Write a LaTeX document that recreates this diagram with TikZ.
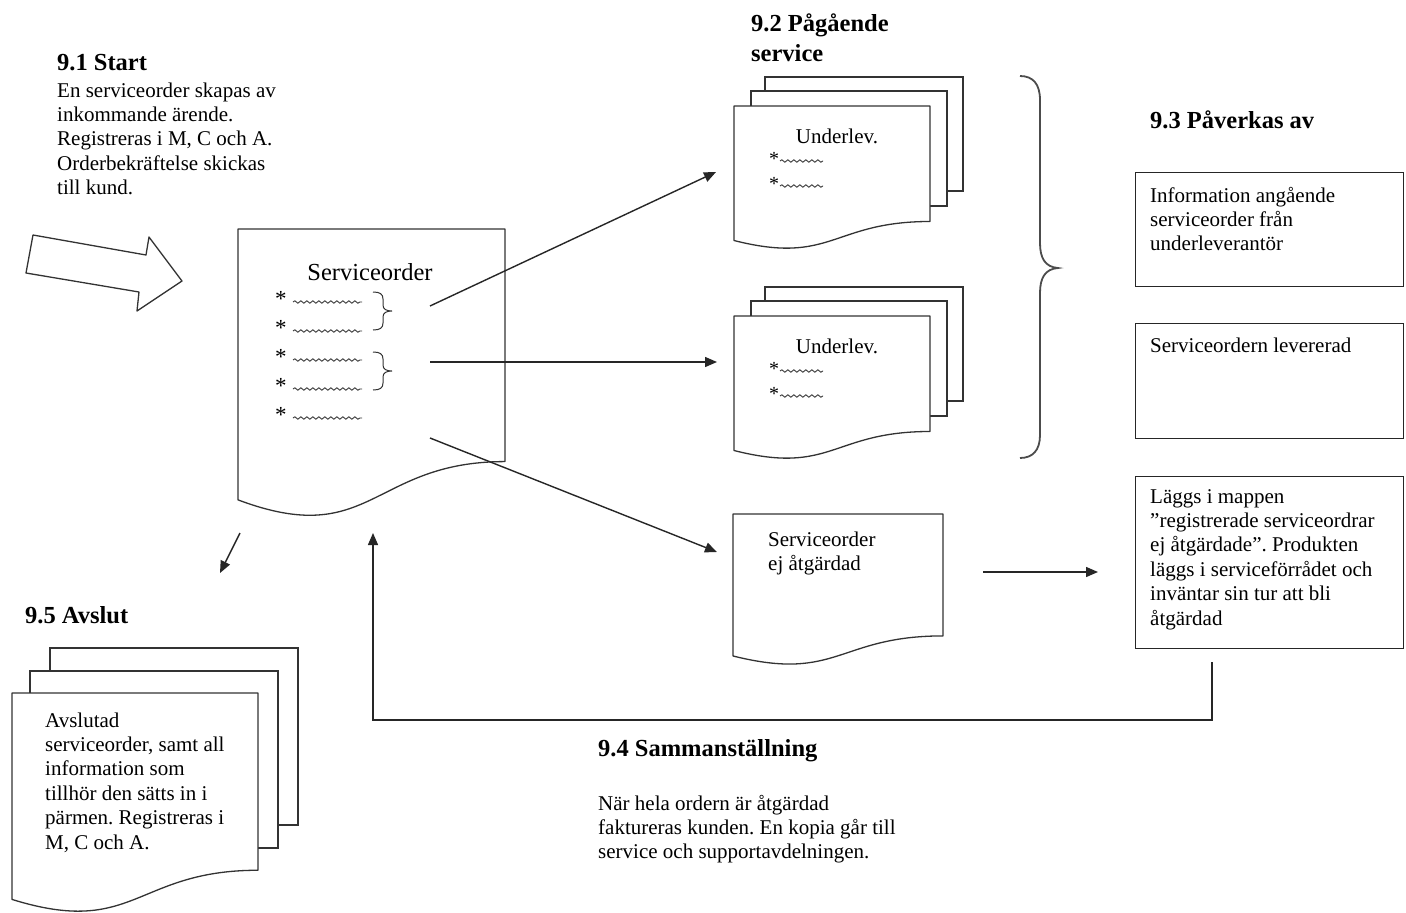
\documentclass[tikz,border=0pt]{standalone}
\usepackage{fontspec}
\setmainfont{Liberation Serif}
\usetikzlibrary{arrows.meta,decorations.pathmorphing}
\frenchspacing
\tikzset{
  docline/.style={draw=black!80, line width=1.3pt, fill=white, line join=round},
  sheet/.style={draw=black!80, line width=1.3pt, fill=white},
  body/.style={font=\fontsize{21}{24.4}\selectfont, inner sep=0pt, anchor=base west, align=left},
  head/.style={font=\fontsize{24.5}{30}\selectfont\bfseries, inner sep=0pt, anchor=base west, align=left},
  conn/.style={draw=black!85, line width=1.4pt, -{Triangle[length=12pt,width=10pt]}},
  wave/.style={draw=black!80, line width=0.9pt, decorate, decoration={snake, amplitude=1.2pt, segment length=6pt}},
  brc/.style={draw=black!70, line width=1.8pt},
  sbrc/.style={draw=black!80, line width=1pt},
  boxnode/.style={draw=black!85, line width=1.3pt, inner sep=0pt, anchor=north west},
  bullet/.style={font=\fontsize{23}{24}\selectfont, inner sep=0pt, anchor=base west}
}
% document shape: name, x, y (top left), w, h
\newcommand{\docpath}[5]{%
  \coordinate (#1) at (#2,#3);
  \path[docline] (#2,#3) -- ({#2+#4},#3) -- ({#2+#4},{#3+0.802*#5})
    .. controls ({#2+0.5*#4},{#3+0.802*#5}) and ({#2+0.5*#4},{#3+1.107*#5}) ..
    (#2,{#3+0.934*#5}) -- cycle;}
\begin{document}
\begin{tikzpicture}[x=1pt,y=-1pt]
\useasboundingbox[fill=white] (0,0) rectangle (1406,913);

% ---------- 9.1 Start ----------
\node[head] (h91) at (57,70) {9.1 Start};
% anchor = baseline of the last line
\node[body] (t91) at (57,194.6) {En serviceorder skapas av\\inkommande ärende.\\Registreras i M, C och A.\\Orderbekräftelse skickas\\till kund.};
\path[docline] (33,235) -- (146,255) -- (149,237) -- (182,281) -- (137,311) -- (139,292) -- (26,273) -- cycle;

% ---------- main serviceorder document ----------
\docpath{sodoc}{238}{229}{267}{290}
\node[font=\fontsize{24.5}{28}\selectfont, inner sep=0pt, anchor=base] (solab) at (370,280) {Serviceorder};
\foreach \r [count=\i] in {296,325,354,383,412}{
  \node[bullet] (sb\i) at (275,\r+10) {*};
  \draw[wave] (293,\r+6) -- (362,\r+6);
}
\draw[sbrc] (373,292) .. controls (380,292) and (383,294) .. (383,299) -- (383,305)
  .. controls (383,309) and (386,311) .. (392,311) .. controls (386,311) and (383,313) .. (383,317)
  -- (383,323) .. controls (383,328) and (380,330) .. (373,330);
\draw[sbrc] (373,352) .. controls (380,352) and (383,354) .. (383,359) -- (383,365)
  .. controls (383,369) and (386,371) .. (392,371) .. controls (386,371) and (383,373) .. (383,377)
  -- (383,383) .. controls (383,388) and (380,390) .. (373,390);

% ---------- 9.2 Pågående service ----------
\node[head] (h92) at (751,61) {9.2 Pågående\\service};
\foreach \dy/\nm in {0/ua,210/ub}{
  \path[sheet] (765,77+\dy) rectangle (963,191+\dy);
  \path[sheet] (751,91+\dy) rectangle (947,206+\dy);
  \docpath{\nm}{734}{106+\dy}{196}{144}
  \node[font=\fontsize{21}{24}\selectfont, inner sep=0pt, anchor=base] (\nm lab) at (837,143+\dy) {Underlev.};
  \node[font=\fontsize{20}{24}\selectfont, inner sep=0pt, anchor=base west] (\nm s1) at (769,165+\dy) {*};
  \node[font=\fontsize{20}{24}\selectfont, inner sep=0pt, anchor=base west] (\nm s2) at (769,190+\dy) {*};
  \draw[wave] (780,161+\dy) -- (823,161+\dy);
  \draw[wave] (780,186+\dy) -- (823,186+\dy);
}

% ---------- serviceorder ej åtgärdad ----------
\docpath{ejdoc}{733}{514}{210}{152}
\node[body] (ejlab) at (768,570.4) {Serviceorder\\ej åtgärdad};

% ---------- big brace ----------
\draw[brc] (1020,76) .. controls (1033,76) and (1040,84) .. (1040,100) -- (1040,243)
  .. controls (1040,258) and (1045,267) .. (1058,268) .. controls (1045,269) and (1040,278) .. (1040,293)
  -- (1040,435) .. controls (1040,450) and (1033,458) .. (1020,458);

% ---------- 9.3 Påverkas av ----------
\node[head] (h93) at (1150,128) {9.3 Påverkas av};
\node[boxnode, minimum width=268pt, minimum height=114pt] (b1) at (1135,172) {};
\node[boxnode, minimum width=268pt, minimum height=115pt] (b2) at (1135,323) {};
\node[boxnode, minimum width=268pt, minimum height=172pt] (b3) at (1135,476) {};
\node[body] (b1t) at (1150,250.8) {Information angående\\serviceorder från\\underleverantör};
\node[body] (b2t) at (1150,352) {Serviceordern levererad};
\node[body] (b3t) at (1150,625) {Läggs i mappen\\”registrerade serviceordrar\\ej åtgärdade”. Produkten\\läggs i serviceförrådet och\\inväntar sin tur att bli\\åtgärdad};

% ---------- 9.4 Sammanställning ----------
\node[head] (h94) at (598,756) {9.4 Sammanställning};
\node[body] (t94) at (598,858.8) {När hela ordern är åtgärdad\\faktureras kunden. En kopia går till\\service och supportavdelningen.};

% ---------- 9.5 Avslut ----------
\node[head] (h95) at (25,623) {9.5 Avslut};
\path[sheet] (50,648) rectangle (298,825);
\path[sheet] (30,671) rectangle (278,848);
\docpath{avdoc}{12}{693}{246}{221}
\node[body] (avt) at (45,849) {Avslutad\\serviceorder, samt all\\information som\\tillhör den sätts in i\\pärmen. Registreras i\\M, C och A.};

% ---------- connectors ----------
\coordinate (a1s) at (430,306);
\coordinate (a1e) at (716,172);
\coordinate (a2s) at (430,362);
\coordinate (a2e) at (717,362);
\coordinate (a3s) at (430,438);
\coordinate (a3e) at (717,552);
\coordinate (a4s) at (240,533);
\coordinate (a4e) at (220,573);
\coordinate (a5s) at (983,572);
\coordinate (a5e) at (1098,572);
\coordinate (fbs) at (1212,662);
\coordinate (fbc1) at (1212,720);
\coordinate (fbc2) at (373,720);
\coordinate (fbe) at (373,533);
\draw[conn] (a1s) -- (a1e);
\draw[conn] (a2s) -- (a2e);
\draw[conn] (a3s) -- (a3e);
\draw[conn] (a4s) -- (a4e);
\draw[conn] (a5s) -- (a5e);
\draw[conn, line join=miter] (fbs) -- (fbc1) -- (fbc2) -- (fbe);
\end{tikzpicture}
\end{document}
